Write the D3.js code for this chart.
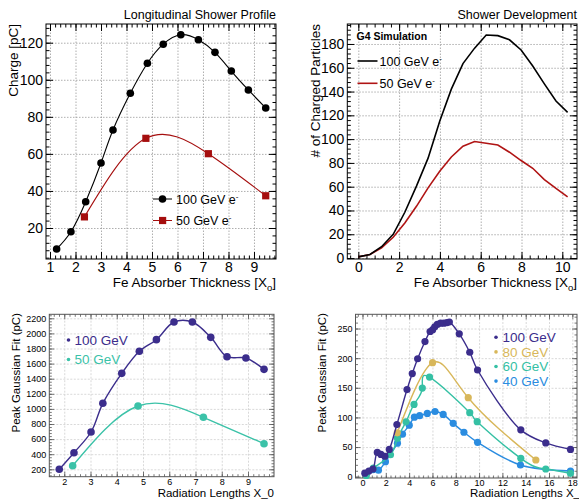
<!DOCTYPE html>
<html><head><meta charset="utf-8">
<script src="https://cdn.jsdelivr.net/npm/d3@7"></script>
<style>
body{margin:0;background:#fff;}
svg{display:block;font-family:"Liberation Sans",Arial,Helvetica,sans-serif;}
</style></head><body>
<svg id="c" width="579" height="502"></svg>
<script>
// ---------- Panel A: Longitudinal Shower Profile ----------
const aX100 = [1.26,1.82,2.40,3.00,3.47,4.15,4.82,5.44,6.13,6.82,7.47,8.11,8.78,9.46];
const aY100 = [8.7,18,34.2,55.1,72.9,92.7,108.9,119.2,124.3,121.6,114.8,104.7,94.5,84.8];
const aX50 = [2.35,4.76,7.21,9.46];
const aY50 = [26,68.4,60.1,37.4];
const aXTicks = [1,2,3,4,5,6,7,8,9];
const aYTicks = [20,40,60,80,100,120];
const aLegend = ["100 GeV e","50 GeV e"];
// ---------- Panel B: Shower Development (G4) ----------
const bX = [0,0.57,1.14,1.71,2.28,2.85,3.42,3.99,4.56,5.13,5.70,6.27,6.84,7.41,7.98,8.55,9.12,9.69,10.26];
const bY100 = [1,3,9.5,20,38.5,60.5,84,115,142,163.5,176.5,187.5,187,183.5,175,161.5,146.5,132,122.5];
const bY50 = [1,3,8.5,17.5,29.5,43.5,59,73,85,94,98,96.5,95,89,82,75.5,66,58.5,51.5];
const bXTicks = [0,2,4,6,8,10];
const bYTicks = [0,20,40,60,80,100,120,140,160,180];
const bLegend = ["100 GeV e","50 GeV e"];
// ---------- Panel C: Peak Gaussian Fit vs X0 ----------
const cX100 = [1.81,2.37,3.02,3.47,4.19,4.86,5.51,6.18,6.88,7.58,8.20,8.92,9.61];
const cY100 = [200,420,694,1074,1471,1763,1917,2151,2151,1948,1691,1674,1524];
const cX50 = [2.32,4.81,7.30,9.61];
const cY50 = [248,1038,889,539];
const cXTicks = [2,3,4,5,6,7,8,9];
const cYTicks = [200,400,600,800,1000,1200,1400,1600,1800,2000,2200];
const cLegend = ["100 GeV","50 GeV"];
// ---------- Panel D: energy scan ----------
const d100X = [0.2,0.55,0.9,1.27,1.58,1.92,2.3,2.95,3.82,4.27,4.73,5.36,5.8,6.02,6.2,6.42,6.7,6.98,7.25,7.45,8.3,9.2,9.87,13.58,15.72,17.84];
const d100Y = [6,9.5,13,41,37.5,34.5,46,88,147,174,199,228,245,248,253,257,259,259,260,261,241,210,180,79,57,46];
const d80X = [2.98,6.01,9.07,14.87];
const d80Y = [74,192.4,133.3,28.2];
const d60X = [0.33,0.93,2.4,3.0,3.73,4.42,5.13,5.75,9.2,9.84,13.58,15.72,17.84];
const d60Y = [2,14.5,37,65,92.5,122,149.5,168,108,92.8,31,13,5.7];
const d40X = [0.9,1.37,1.97,3.0,3.43,4.01,4.45,4.9,5.56,6.22,6.92,7.78,8.7,9.87,13.55,17.84];
const d40Y = [12,11,25.3,56.5,71.8,87,100.4,103,106.7,110,105,90,75,58,19.7,9.6];
const dXTicks = [0,2,4,6,8,10,12,14,16,18];
const dYTicks = [0,50,100,150,200,250];
const dLegend = ["100 GeV","80 GeV","60 GeV","40 GeV"];

const svg = d3.select("#c");
const zip = (xs,ys)=>xs.map((v,i)=>[v,ys[i]]);
const fmt = d3.format("d");

function panel(o){
  const g = svg.append("g");
  const x = d3.scaleLinear().domain(o.xd).range([o.L,o.R]);
  const y = d3.scaleLinear().domain(o.yd).range([o.B,o.T]);
  const W = o.R-o.L, H = o.B-o.T;
  const strip = s=>s.select(".domain").remove();
  // grid
  g.append("g").attr("transform",`translate(0,${o.B})`)
    .call(d3.axisBottom(x).tickValues(o.xt).tickSize(-H).tickFormat(""))
    .call(strip).call(s=>s.selectAll("line").attr("stroke",o.grid).attr("stroke-width",o.gw).attr("stroke-dasharray",o.dash));
  g.append("g").attr("transform",`translate(${o.L},0)`)
    .call(d3.axisLeft(y).tickValues(o.yt).tickSize(-W).tickFormat(""))
    .call(strip).call(s=>s.selectAll("line").attr("stroke",o.grid).attr("stroke-width",o.gw).attr("stroke-dasharray",o.dash));
  // ticks
  const xm = d3.range(Math.ceil(o.xd[0]/o.xms)*o.xms, o.xd[1], o.xms).filter(v=>v>=o.xd[0]);
  const ym = d3.range(Math.ceil(o.yd[0]/o.yms)*o.yms, o.yd[1], o.yms).filter(v=>v>=o.yd[0]);
  const tk = (gen,sc,vals,len,tr)=>g.append("g").attr("transform",tr)
      .call(gen(sc).tickValues(vals).tickSize(-len).tickFormat(""))
      .call(strip).call(s=>s.selectAll("line").attr("stroke",o.fc).attr("stroke-width",o.tw));
  [[d3.axisBottom,x,`translate(0,${o.B})`,xm,o.xt],[d3.axisTop,x,`translate(0,${o.T})`,xm,o.xt],
   [d3.axisLeft,y,`translate(${o.L},0)`,ym,o.yt],[d3.axisRight,y,`translate(${o.R},0)`,ym,o.yt]]
   .forEach(([gen,sc,tr,mn,mj])=>{tk(gen,sc,mn,o.minLen,tr);tk(gen,sc,mj,o.majLen,tr);});
  // tick labels
  g.append("g").attr("transform",`translate(0,${o.B})`)
    .call(d3.axisBottom(x).tickValues(o.xt).tickSize(0).tickPadding(o.xpad).tickFormat(fmt))
    .call(strip).call(s=>s.selectAll("text").attr("font-size",o.tf).attr("fill","#000").attr("font-family","Liberation Sans, Arial, sans-serif"));
  g.append("g").attr("transform",`translate(${o.L},0)`)
    .call(d3.axisLeft(y).tickValues(o.yt).tickSize(0).tickPadding(o.ypad).tickFormat(fmt))
    .call(strip).call(s=>s.selectAll("text").attr("font-size",o.tf).attr("fill","#000").attr("font-family","Liberation Sans, Arial, sans-serif"));
  // frame
  g.append("rect").attr("x",o.L).attr("y",o.T).attr("width",W).attr("height",H)
    .attr("fill","none").attr("stroke",o.fc).attr("stroke-width",o.fw);
  return {g,x,y};
}

function xlabel(g,txt,sub,x,yb,fs,anchor){
  const t = g.append("text").attr("x",x).attr("y",yb).attr("font-size",fs).attr("text-anchor",anchor||"end").text(txt);
  if(sub){ t.append("tspan").attr("dy",4).attr("font-size",fs*0.7).text(sub);
           t.append("tspan").attr("dy",-4).text("]"); }
  return t;
}
function ylabel(g,txt,xb,ytop,fs){
  g.append("text").attr("transform",`translate(${xb},${ytop}) rotate(-90)`).attr("text-anchor","end")
   .attr("font-size",fs).text(txt);
}
function sup(t){ t.append("tspan").attr("dy",-5).attr("font-size",8).text("-"); }

// ===== Panel A =====
{
  const P = panel({L:46,R:276,T:24,B:259,xd:[0.843,9.863],yd:[3.27,130.1],xt:aXTicks,yt:aYTicks,
    xms:0.2,yms:4,grid:"#9a9a9a",gw:0.8,dash:"1.5,1.5",fc:"#000",fw:1,tw:1,majLen:7,minLen:3.5,
    tf:14,xpad:3,ypad:3});
  const {g,x,y} = P;
  const line = d3.line().x(d=>x(d[0])).y(d=>y(d[1])).curve(d3.curveNatural);
  const red = "#a50e0e";
  g.append("path").attr("d",line(zip(aX50,aY50))).attr("fill","none").attr("stroke",red).attr("stroke-width",1.1);
  g.append("path").attr("d",line(zip(aX100,aY100))).attr("fill","none").attr("stroke","#000").attr("stroke-width",1.1);
  g.selectAll(".c").data(zip(aX100,aY100)).join("circle").attr("cx",d=>x(d[0])).attr("cy",d=>y(d[1])).attr("r",3.8).attr("fill","#000");
  g.selectAll(".s").data(zip(aX50,aY50)).join("rect").attr("x",d=>x(d[0])-3.6).attr("y",d=>y(d[1])-3.6).attr("width",7.2).attr("height",7.2).attr("fill",red);
  // legend
  const ly=[199,220.5];
  g.append("line").attr("x1",153).attr("x2",172).attr("y1",ly[0]).attr("y2",ly[0]).attr("stroke","#000");
  g.append("circle").attr("cx",162.5).attr("cy",ly[0]).attr("r",3.8).attr("fill","#000");
  g.append("line").attr("x1",153).attr("x2",172).attr("y1",ly[1]).attr("y2",ly[1]).attr("stroke",red);
  g.append("rect").attr("x",159).attr("y",ly[1]-3.6).attr("width",7.2).attr("height",7.2).attr("fill",red);
  aLegend.forEach((s,i)=>{ const t=g.append("text").attr("x",176).attr("y",ly[i]+4.5).attr("font-size",12.5).text(s); sup(t); });
  g.append("text").attr("x",276).attr("y",19).attr("text-anchor","end").attr("font-size",12.5).text("Longitudinal Shower Profile");
  ylabel(g,"Charge [pC]",17.5,24,13.5);
  xlabel(g,"Fe Absorber Thickness [X","o",276,287,13.5);
}
// ===== Panel B =====
{
  const P = panel({L:347.3,R:577,T:24,B:259,xd:[-0.54,10.72],yd:[-0.8,196.8],xt:bXTicks,yt:bYTicks,
    xms:0.4,yms:4,grid:"#9a9a9a",gw:0.8,dash:"1.5,1.5",fc:"#000",fw:1,tw:1,majLen:7,minLen:3.5,
    tf:14,xpad:3,ypad:3});
  const {g,x,y} = P;
  const line = d3.line().x(d=>x(d[0])).y(d=>y(d[1]));
  const red = "#b01414";
  g.append("path").attr("d",line(zip(bX,bY50))).attr("fill","none").attr("stroke",red).attr("stroke-width",1.6);
  g.append("path").attr("d",line(zip(bX,bY100))).attr("fill","none").attr("stroke","#000").attr("stroke-width",1.6);
  g.append("text").attr("x",356.5).attr("y",40).attr("font-size",10.5).attr("font-weight","bold").text("G4 Simulation");
  const ly=[61,83.3];
  [ "#000", red ].forEach((c,i)=>{
    g.append("line").attr("x1",357.5).attr("x2",377.5).attr("y1",ly[i]).attr("y2",ly[i]).attr("stroke",c).attr("stroke-width",1.6);
    const t=g.append("text").attr("x",379.5).attr("y",ly[i]+4.5).attr("font-size",12.5).text(bLegend[i]); sup(t);
  });
  g.append("text").attr("x",577).attr("y",19).attr("text-anchor","end").attr("font-size",12.5).text("Shower Development");
  ylabel(g,"# of Charged Particles",320,24,13.5);
  xlabel(g,"Fe Absorber Thickness [X","o",577,287,13.5);
}
// ===== Panel C =====
const purple="#3b2d8c", teal="#3bc2a8", gold="#d8b75a", teal2="#35c0a4", blue="#2a8ce0";
{
  const P = panel({L:49.3,R:274,T:314.3,B:476.7,xd:[1.43,9.99],yd:[102,2253],xt:cXTicks,yt:cYTicks,
    xms:0.2,yms:40,grid:"#cfcfcf",gw:0.8,dash:"2,1.5",fc:"#555",fw:1,tw:0.8,majLen:5,minLen:2.5,
    tf:9,xpad:2,ypad:3});
  const {g,x,y} = P;
  const lineC = d3.line().x(d=>x(d[0])).y(d=>y(d[1])).curve(d3.curveCatmullRom.alpha(0.5));
  const lineN = d3.line().x(d=>x(d[0])).y(d=>y(d[1])).curve(d3.curveNatural);
  g.append("path").attr("d",lineN(zip(cX50,cY50))).attr("fill","none").attr("stroke",teal).attr("stroke-width",1.4);
  g.append("path").attr("d",lineC(zip(cX100,cY100))).attr("fill","none").attr("stroke",purple).attr("stroke-width",1.4);
  g.selectAll(".p").data(zip(cX100,cY100)).join("circle").attr("cx",d=>x(d[0])).attr("cy",d=>y(d[1])).attr("r",3.8).attr("fill",purple);
  g.selectAll(".q").data(zip(cX50,cY50)).join("circle").attr("cx",d=>x(d[0])).attr("cy",d=>y(d[1])).attr("r",3.8).attr("fill",teal);
  [purple,teal].forEach((c,i)=>{
    const yy=[340,359.5][i];
    g.append("circle").attr("cx",68.5).attr("cy",yy).attr("r",1.8).attr("fill",c);
    g.append("text").attr("x",74.5).attr("y",yy+4.8).attr("font-size",13.5).attr("fill",c).text(cLegend[i]);
  });
  ylabel(g,"Peak Gaussian Fit (pC)",19.5,313,11.5);
  xlabel(g,"Radiation Lengths X_0",null,274,496.5,11.5);
}
// ===== Panel D =====
{
  const P = panel({L:355.5,R:577,T:314.3,B:478,xd:[-0.6,18.4],yd:[-2.2,274],xt:dXTicks,yt:dYTicks,
    xms:0.4,yms:10,grid:"#cfcfcf",gw:0.8,dash:"2,1.5",fc:"#555",fw:1,tw:0.8,majLen:5,minLen:2.5,
    tf:9,xpad:1.5,ypad:3});
  const {g,x,y} = P;
  const lineC = d3.line().x(d=>x(d[0])).y(d=>y(d[1])).curve(d3.curveCatmullRom.alpha(0.5));
  const lineN = d3.line().x(d=>x(d[0])).y(d=>y(d[1])).curve(d3.curveNatural);
  const series = [
    {xs:d40X,ys:d40Y,c:blue,ln:lineC},
    {xs:d60X,ys:d60Y,c:teal2,ln:lineN},
    {xs:d80X,ys:d80Y,c:gold,ln:lineN},
    {xs:d100X,ys:d100Y,c:purple,ln:lineC}];
  series.forEach(s=>{
    g.append("path").attr("d",s.ln(zip(s.xs,s.ys))).attr("fill","none").attr("stroke",s.c).attr("stroke-width",1.4);
    g.append("g").selectAll("circle").data(zip(s.xs,s.ys)).join("circle")
      .attr("cx",d=>x(d[0])).attr("cy",d=>y(d[1])).attr("r",3.6).attr("fill",s.c);
  });
  [purple,gold,teal2,blue].forEach((c,i)=>{
    const yy=337.3+i*14.6;
    g.append("circle").attr("cx",496).attr("cy",yy).attr("r",1.8).attr("fill",c);
    g.append("text").attr("x",502.5).attr("y",yy+4.8).attr("font-size",13.5).attr("fill",c).text(dLegend[i]);
  });
  ylabel(g,"Peak Gaussian Fit (pC)",326,313,11.5);
  xlabel(g,"Radiation Lengths X_0",null,470,496.5,11.5,"start");
}
</script></body></html>
